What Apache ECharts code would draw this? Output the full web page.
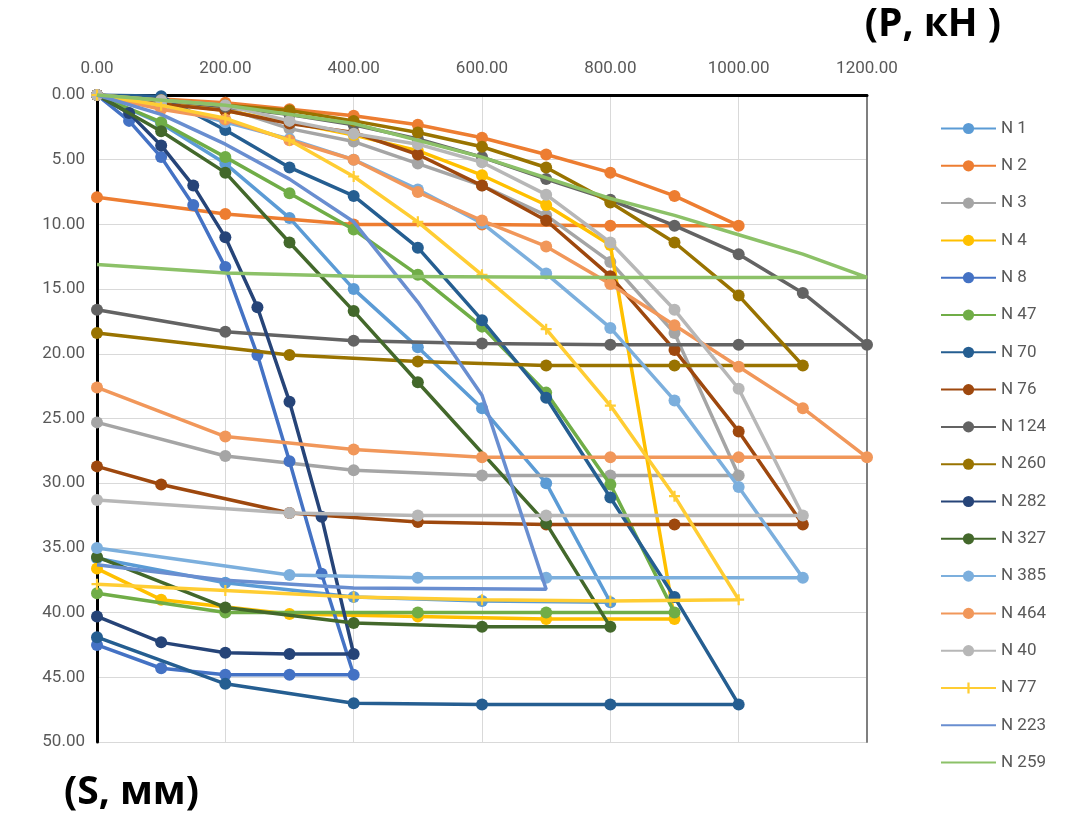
<!DOCTYPE html>
<html>
<head>
<meta charset="utf-8">
<script src="https://cdn.jsdelivr.net/npm/echarts@6/dist/echarts.min.js"></script>
<style>html,body{margin:0;padding:0;background:#fff;}#c{width:1067px;height:821px;}</style>
</head>
<body>
<div id="c"></div>
<script>
// Tick values
const xTicks = [0, 200, 400, 600, 800, 1000, 1200];
const yTicks = [0, 5, 10, 15, 20, 25, 30, 35, 40, 45, 50];
const seriesNames = ['N 1','N 2','N 3','N 4','N 8','N 47','N 70','N 76','N 124','N 260','N 282','N 327','N 385','N 464','N 40','N 77','N 223','N 259'];

// Load P (kN) and settlement S (mm), loading then unloading branch
const n1P = [0,100,200,300,400,500,600,700,800,600,400,200,0];
const n1S = [0,2.2,5.3,9.5,15.0,19.5,24.2,30.0,39.2,39.1,38.8,37.7,35.8];
const n2P = [0,100,200,300,400,500,600,700,800,900,1000,800,600,400,200,0];
const n2S = [0,0.3,0.6,1.1,1.6,2.3,3.3,4.6,6.0,7.8,10.1,10.1,10.0,10.0,9.2,7.9];
const n3P = [0,100,200,300,400,500,600,700,800,900,1000,800,600,400,200,0];
const n3S = [0,0.5,1.0,2.6,3.6,5.3,7.0,9.3,12.9,18.4,29.4,29.4,29.4,29.0,27.9,25.3];
const n4P = [0,100,200,300,400,500,600,700,800,900,700,500,300,100,0];
const n4S = [0,0.6,1.2,2.1,3.1,4.3,6.2,8.5,11.6,40.5,40.5,40.3,40.1,39.0,36.6];
const n8P = [0,50,100,150,200,250,300,350,400,300,200,100,0];
const n8S = [0,2.0,4.8,8.5,13.3,20.1,28.3,37.0,44.8,44.8,44.8,44.3,42.5];
const n47P = [0,100,200,300,400,500,600,700,800,900,700,500,200,0];
const n47S = [0,2.1,4.8,7.6,10.4,13.9,17.9,23.0,30.1,40.0,40.0,40.0,40.0,38.5];
const n70P = [0,100,200,300,400,500,600,700,800,900,1000,800,600,400,200,0];
const n70S = [0,0.1,2.7,5.6,7.8,11.8,17.4,23.4,31.1,38.8,47.1,47.1,47.1,47.0,45.5,41.9];
const n76P = [0,100,200,300,400,500,600,700,800,900,1000,1100,900,700,500,300,100,0];
const n76S = [0,0.7,1.2,2.2,2.9,4.6,7.0,9.7,14.0,19.7,26.0,33.2,33.2,33.2,33.0,32.3,30.1,28.7];
const n124P = [0,100,200,300,400,500,600,700,800,900,1000,1100,1200,1000,800,600,400,200,0];
const n124S = [0,0.4,0.9,1.5,2.3,3.4,4.8,6.5,8.1,10.1,12.3,15.3,19.3,19.3,19.3,19.2,19.0,18.3,16.6];
const n260P = [0,100,200,300,400,500,600,700,800,900,1000,1100,900,700,500,300,0];
const n260S = [0,0.4,0.8,1.2,2.0,2.9,4.0,5.6,8.3,11.4,15.5,20.9,20.9,20.9,20.6,20.1,18.4];
const n282P = [0,50,100,150,200,250,300,350,400,300,200,100,0];
const n282S = [0,1.4,3.9,7.0,11.0,16.4,23.7,32.6,43.2,43.2,43.1,42.3,40.3];
const n327P = [0,100,200,300,400,500,700,800,600,400,200,0];
const n327S = [0,2.8,6.0,11.4,16.7,22.2,33.1,41.1,41.1,40.8,39.6,35.7];
const n385P = [0,100,200,300,400,500,600,700,800,900,1000,1100,700,500,300,0];
const n385S = [0,0.8,2.1,3.4,5.0,7.3,9.9,13.8,18.0,23.6,30.3,37.3,37.3,37.3,37.1,35.0];
const n464P = [0,100,200,300,400,500,600,700,800,900,1000,1100,1200,1000,800,600,400,200,0];
const n464S = [0,1.1,1.9,3.5,5.0,7.5,9.7,11.7,14.6,17.8,21.0,24.2,28.0,28.0,28.0,28.0,27.4,26.4,22.6];
const n40P = [0,100,200,300,400,500,600,700,800,900,1000,1100,700,500,300,0];
const n40S = [0,0.4,0.8,2.0,3.0,3.8,5.2,7.7,11.4,16.6,22.7,32.5,32.5,32.5,32.3,31.3];
const n77P = [0,100,200,300,400,500,600,700,800,900,1000,800,600,400,200,0];
const n77S = [0,0.8,1.8,3.5,6.3,9.8,13.9,18.1,24.0,31.0,39.0,39.1,39.0,38.8,38.3,37.8];
const n223P = [0,100,200,300,400,500,600,700,400,200,0];
const n223S = [0,1.5,3.8,6.5,9.8,16.0,23.2,38.2,38.1,37.5,36.3];
const n259P = [0,200,400,600,800,900,1000,1100,1200,800,400,200,0];
const n259S = [0,0.8,2.2,4.8,8.0,9.3,10.8,12.3,14.1,14.1,14.0,13.75,13.1];

const seriesP = [n1P,n2P,n3P,n4P,n8P,n47P,n70P,n76P,n124P,n260P,n282P,n327P,n385P,n464P,n40P,n77P,n223P,n259P];
const seriesS = [n1S,n2S,n3S,n4S,n8S,n47S,n70S,n76S,n124S,n260S,n282S,n327S,n385S,n464S,n40S,n77S,n223S,n259S];
const colors = ['#5B9BD5','#ED7D31','#A5A5A5','#FFC000','#4472C4','#70AD47','#255E91','#9E480E','#636363','#997300','#264478','#43682B','#7CAFDD','#F1975A','#B7B7B7','#FFCD33','#698ED0','#8CC168'];

const plusPath = 'path://M4,0 L6,0 L6,4 L10,4 L10,6 L6,6 L6,10 L4,10 L4,6 L0,6 L0,4 L4,4 Z';
const font = '"Liberation Sans Narrow", "Roboto", sans-serif';
const noMarker = ['N 223', 'N 259'];

const series = seriesNames.map((name, i) => {
  let symbol = 'circle', size = 12;
  if (name === 'N 77') { symbol = plusPath; size = 11; }
  if (noMarker.includes(name)) { symbol = 'none'; }
  return {
    name: name,
    type: 'line',
    data: seriesP[i].map((p, k) => [p, seriesS[i][k]]),
    symbol: symbol,
    symbolSize: size,
    showSymbol: symbol !== 'none',
    color: colors[i],
    lineStyle: { width: 3.5, color: colors[i] },
    itemStyle: { color: colors[i] },
    z: 2 + i,
    animation: false
  };
});

const legendData = seriesNames.map(n => noMarker.includes(n) ? { name: n, itemStyle: { opacity: 0 } } : { name: n });

const chart = echarts.init(document.getElementById('c'), null, { renderer: 'canvas' });
chart.setOption({
  backgroundColor: '#ffffff',
  animation: false,
  color: colors,
  grid: { left: 97, top: 95, width: 770, height: 647, containLabel: false },
  xAxis: {
    type: 'value', position: 'top', min: xTicks[0], max: xTicks[xTicks.length - 1], interval: 200,
    axisLine: { show: true, onZero: false, lineStyle: { color: '#000', width: 3 } },
    axisTick: { show: false },
    axisLabel: { margin: 18, fontSize: 17, color: '#595959', fontFamily: font, formatter: v => v.toFixed(2) },
    splitLine: { show: true, lineStyle: { color: '#D9D9D9', width: 1 } }
  },
  yAxis: [{
    type: 'value', inverse: true, min: yTicks[0], max: yTicks[yTicks.length - 1], interval: 5,
    axisLine: { show: true, onZero: false, lineStyle: { color: '#000', width: 3 } },
    axisTick: { show: false },
    axisLabel: { margin: 12, fontSize: 17, color: '#595959', fontFamily: font, formatter: v => v.toFixed(2) },
    splitLine: { show: true, lineStyle: { color: '#D9D9D9', width: 1 } }
  }, {
    type: 'value', inverse: true, position: 'right', min: 0, max: 50, interval: 5,
    axisLine: { show: true, onZero: false, lineStyle: { color: '#7F7F7F', width: 2 } },
    axisTick: { show: false }, axisLabel: { show: false }, splitLine: { show: false }
  }],
  legend: {
    orient: 'vertical', left: 935, top: 115,
    itemWidth: 55, itemHeight: 14, itemGap: 20.3,
    textStyle: { fontSize: 17, color: '#595959', fontFamily: font },
    data: legendData
  },
  graphic: [
    { type: 'text', right: 66, top: 5, style: { text: '(P, кН )', font: 'bold 39px "Open Sans", sans-serif', fill: '#000' } },
    { type: 'text', left: 64, top: 773, style: { text: '(S, мм)', font: 'bold 39px "Open Sans", sans-serif', fill: '#000' } }
  ],
  series: series
});
</script>
</body>
</html>
